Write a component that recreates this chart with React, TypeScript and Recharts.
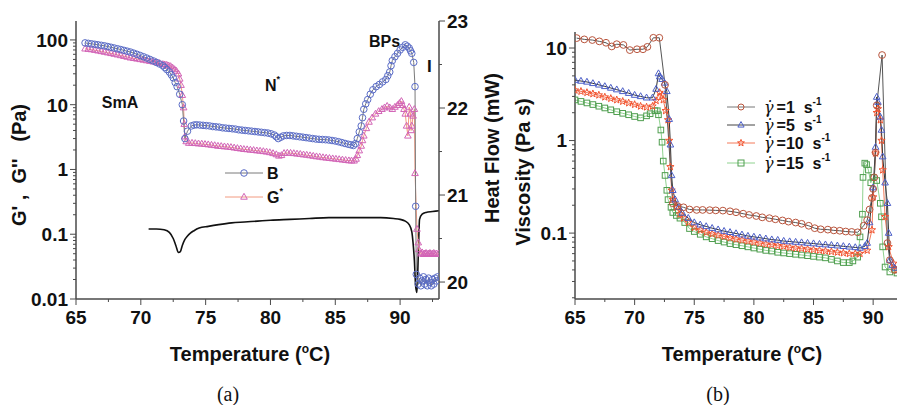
import React from 'react';
import { LineChart, Line, XAxis, YAxis } from 'recharts';

// ---------- Panel (a) data: [temperature °C, value] ----------
const gPrime: number[][] = [
  [65.7,90],[65.95,88.5],[66.2,87],[66.45,85.5],[66.7,84],[66.95,82.5],[67.2,81],[67.45,79],[67.7,77],[67.95,75],
  [68.2,73],[68.45,71],[68.7,69],[68.95,67],[69.2,65],[69.45,62.5],[69.7,60],[69.95,57.5],[70.2,55],[70.45,52.5],
  [70.7,50],[70.95,47.5],[71.2,45],[71.45,42.5],[71.7,40],[71.85,37.5],[72.0,35],[72.2,32],[72.35,29],[72.5,26],
  [72.65,22],[72.8,19],[73.0,14.5],[73.2,10],[73.3,5.6],[73.4,3.0],[73.6,3.9],[73.9,4.7],[74.1,4.85],[74.3,4.9],
  [74.55,4.85],[74.8,4.8],[75.05,4.75],[75.3,4.7],[75.55,4.6],[75.8,4.55],[76.05,4.5],[76.3,4.4],[76.55,4.35],[76.8,4.3],
  [77.05,4.25],[77.3,4.2],[77.55,4.1],[77.8,4.05],[78.05,4.0],[78.3,3.95],[78.55,3.9],[78.8,3.85],[79.05,3.8],[79.3,3.75],
  [79.55,3.7],[79.8,3.65],[80.05,3.55],[80.3,3.4],[80.45,3.2],[80.6,3.0],[80.8,3.15],[81.0,3.3],[81.25,3.35],[81.5,3.35],
  [81.75,3.3],[82.0,3.25],[82.25,3.2],[82.5,3.15],[82.75,3.1],[83.0,3.05],[83.25,3.0],[83.5,2.95],[83.75,2.92],[84.0,2.9],
  [84.25,2.88],[84.5,2.85],[84.75,2.8],[85.0,2.75],[85.25,2.68],[85.5,2.6],[85.75,2.52],[86.0,2.45],[86.2,2.4],[86.4,2.35],
  [86.55,2.5],[86.7,3.0],[86.85,3.8],[87.0,4.7],[87.1,6.3],[87.2,8.5],[87.35,10.3],[87.5,12],[87.7,14.5],[87.9,17],
  [88.15,19],[88.4,20.5],[88.65,22.5],[88.9,24.5],[89.05,28],[89.2,32],[89.3,40],[89.4,48],[89.6,55],[89.8,62],
  [90.0,70],[90.2,77],[90.4,84],[90.55,80],[90.7,75],[90.8,68],[90.9,62],[91.05,45],[91.15,19],[91.2,0.27],
  [91.25,0.024],[91.4,0.017],[91.5,0.021],[91.6,0.016],[91.7,0.019],[91.8,0.022],[91.9,0.017],[92.0,0.02],[92.1,0.016],[92.2,0.021],
  [92.3,0.018],[92.4,0.016],[92.5,0.02],[92.6,0.017],[92.7,0.021],[92.8,0.019],[92.9,0.022],
];

const gDouble: number[][] = [
  [65.7,73],[65.95,72],[66.2,71],[66.45,69.5],[66.7,68],[66.95,66.5],[67.2,65],[67.45,63.5],[67.7,62],[67.95,60.5],
  [68.2,59],[68.45,57.5],[68.7,56],[68.95,54.5],[69.2,53],[69.45,52],[69.7,51],[69.95,50],[70.2,49],[70.45,48],
  [70.7,47],[70.95,46],[71.2,45],[71.45,43.5],[71.7,42],[71.85,41.5],[72.0,41],[72.15,40],[72.3,39],[72.45,37],
  [72.6,35],[72.75,33],[72.9,30],[73.0,25],[73.1,20],[73.2,14],[73.3,9],[73.35,5],[73.4,3.2],[73.5,2.7],
  [73.7,2.55],[73.95,2.56],[74.2,2.53],[74.45,2.5],[74.7,2.48],[74.95,2.45],[75.2,2.42],[75.45,2.38],[75.7,2.35],[75.95,2.3],
  [76.2,2.28],[76.45,2.25],[76.7,2.23],[76.95,2.2],[77.2,2.16],[77.45,2.12],[77.7,2.09],[77.95,2.05],[78.2,2.03],[78.45,2.0],
  [78.7,1.98],[78.95,1.95],[79.2,1.93],[79.45,1.9],[79.7,1.87],[79.95,1.83],[80.2,1.77],[80.45,1.7],[80.65,1.62],[80.85,1.65],
  [81.05,1.78],[81.3,1.8],[81.55,1.79],[81.8,1.77],[82.05,1.74],[82.3,1.72],[82.55,1.69],[82.8,1.67],[83.05,1.64],[83.3,1.61],
  [83.55,1.58],[83.8,1.56],[84.05,1.53],[84.3,1.51],[84.55,1.49],[84.8,1.47],[85.05,1.45],[85.3,1.43],[85.55,1.41],[85.8,1.39],
  [86.05,1.37],[86.25,1.36],[86.45,1.36],[86.6,1.45],[86.7,1.65],[86.85,1.95],[87.0,2.3],[87.1,2.8],[87.2,3.3],[87.4,4.3],
  [87.6,5.4],[87.85,6.3],[88.1,7.2],[88.35,7.9],[88.6,8.5],[88.8,9.0],[89.0,9.5],[89.2,9.0],[89.4,8.5],[89.6,9.2],
  [89.8,9.8],[89.95,10.5],[90.1,11.3],[90.2,9.8],[90.3,8.5],[90.4,7.2],[90.5,4.7],[90.6,3.3],[90.7,9.2],[90.8,7.2],
  [90.85,4.0],[90.9,4.7],[91.0,6.7],[91.1,8.5],[91.15,0.87],[91.3,0.12],[91.4,0.074],[91.45,0.058],[91.6,0.05],[91.7,0.052],
  [91.8,0.049],[91.9,0.05],[92.0,0.051],[92.1,0.049],[92.2,0.05],[92.3,0.051],[92.4,0.049],[92.5,0.05],[92.6,0.051],[92.7,0.049],
  [92.8,0.05],[92.95,0.05],
];

const heatFlow: number[][] = [
  [70.6,20.61],[71.2,20.61],[71.8,20.6],[72.2,20.57],[72.5,20.5],[72.7,20.42],[72.9,20.34],[73.05,20.35],[73.2,20.42],[73.4,20.49],
  [73.6,20.53],[73.8,20.56],[74.1,20.59],[74.5,20.62],[75.2,20.64],[76.0,20.66],[77.0,20.68],[78.0,20.69],[79.0,20.7],[80.0,20.71],
  [81.5,20.72],[83.0,20.73],[84.5,20.74],[86.0,20.74],[87.5,20.74],[88.5,20.74],[89.5,20.73],[90.0,20.72],[90.4,20.7],[90.7,20.66],
  [90.9,20.58],[91.0,20.45],[91.1,20.25],[91.2,19.95],[91.3,19.88],[91.4,20.3],[91.5,20.72],[91.7,20.78],[92.0,20.8],[92.5,20.81],
  [93.0,20.82],
];

// ---------- Panel (b) data: [temperature °C, viscosity Pa s] ----------
const gamma1: number[][] = [
  [65.14,12.8],[65.78,12.4],[66.45,12.2],[67.04,11.8],[67.6,11.4],[68.08,10.4],[68.5,11.0],[69.06,10.8],[69.6,9.5],[70.2,9.7],
  [70.7,9.7],[71.07,10.3],[71.57,12.9],[72.07,12.9],[72.55,4.0],[73.2,0.21],[73.6,0.196],[74.1,0.19],[74.6,0.18],[75.2,0.178],
  [75.7,0.178],[76.3,0.177],[76.8,0.176],[77.4,0.175],[78.0,0.172],[78.5,0.168],[79.1,0.162],[79.6,0.157],[80.2,0.153],[80.7,0.148],
  [81.3,0.145],[81.8,0.141],[82.4,0.137],[82.9,0.133],[83.5,0.13],[84.0,0.126],[84.6,0.12],[85.1,0.113],[85.6,0.11],[86.2,0.109],
  [86.7,0.107],[87.2,0.106],[87.7,0.104],[88.2,0.103],[88.7,0.102],[89.2,0.12],[89.5,0.138],[89.7,0.18],[89.9,0.24],[90.0,0.3],
  [90.1,0.4],[90.2,0.74],[90.3,2.4],[90.75,8.4],[91.2,0.078],[91.4,0.051],[91.8,0.04],
];

const gamma5: number[][] = [
  [65.0,4.5],[65.5,4.4],[66.0,4.3],[66.5,4.15],[67.0,4.0],[67.5,3.85],[68.0,3.7],[68.5,3.55],[69.0,3.4],[69.5,3.25],
  [70.0,3.1],[70.5,3.0],[71.0,2.9],[71.5,2.9],[71.8,3.6],[72.0,5.3],[72.1,4.9],[72.3,4.6],[72.5,4.2],[72.7,3.4],
  [72.9,1.7],[73.0,0.9],[73.1,0.42],[73.2,0.29],[73.4,0.23],[73.7,0.19],[74.0,0.165],[74.5,0.145],[75.0,0.13],[75.5,0.123],
  [76.0,0.118],[76.5,0.113],[77.0,0.109],[77.5,0.105],[78.0,0.102],[78.5,0.099],[79.0,0.096],[79.5,0.093],[80.0,0.091],[80.5,0.089],
  [81.0,0.087],[81.5,0.085],[82.0,0.084],[82.5,0.082],[83.0,0.081],[83.5,0.08],[84.0,0.079],[84.5,0.078],[85.0,0.077],[85.5,0.076],
  [86.0,0.075],[86.5,0.074],[87.0,0.073],[87.5,0.072],[88.0,0.071],[88.5,0.07],[88.9,0.069],[89.3,0.072],[89.5,0.078],[89.7,0.13],
  [90.0,0.31],[90.2,0.85],[90.3,2.95],[90.4,2.6],[90.6,1.8],[90.7,1.3],[90.8,0.67],[91.0,0.35],[91.2,0.21],[91.3,0.1],
  [91.4,0.051],[91.6,0.045],[91.8,0.042],
];

const gamma10: number[][] = [
  [65.0,3.5],[65.5,3.4],[66.0,3.3],[66.5,3.2],[67.0,3.1],[67.5,2.95],[68.0,2.85],[68.5,2.75],[69.0,2.65],[69.5,2.55],
  [70.0,2.45],[70.5,2.35],[71.0,2.3],[71.5,2.35],[71.8,2.7],[72.1,3.3],[72.3,3.1],[72.4,2.75],[72.6,2.1],[72.8,1.67],
  [72.9,1.0],[73.0,0.52],[73.1,0.29],[73.2,0.23],[73.5,0.19],[73.8,0.16],[74.1,0.145],[74.5,0.13],[75.0,0.115],[75.5,0.108],
  [76.0,0.102],[76.5,0.098],[77.0,0.095],[77.5,0.092],[78.0,0.089],[78.5,0.086],[79.0,0.084],[79.5,0.082],[80.0,0.08],[80.5,0.078],
  [81.0,0.076],[81.5,0.075],[82.0,0.073],[82.5,0.072],[83.0,0.07],[83.5,0.069],[84.0,0.068],[84.5,0.067],[85.0,0.066],[85.5,0.065],
  [86.0,0.064],[86.5,0.063],[87.0,0.062],[87.5,0.061],[88.0,0.06],[88.5,0.06],[88.9,0.06],[89.5,0.065],[89.9,0.108],[90.0,0.245],
  [90.2,0.73],[90.3,2.0],[90.4,2.2],[90.6,1.67],[90.7,1.0],[90.8,0.48],[91.0,0.15],[91.3,0.071],[91.7,0.047],[92.0,0.04],
];

const gamma15: number[][] = [
  [65.0,2.75],[65.5,2.65],[66.0,2.55],[66.5,2.45],[67.0,2.35],[67.5,2.25],[68.0,2.15],[68.5,2.05],[69.0,1.97],[69.5,1.9],
  [70.0,1.82],[70.5,1.76],[71.0,1.85],[71.3,1.95],[71.7,2.1],[71.9,2.1],[72.0,1.9],[72.2,1.3],[72.3,0.96],[72.4,0.6],
  [72.55,0.42],[72.7,0.29],[72.8,0.23],[73.05,0.19],[73.2,0.167],[73.5,0.155],[73.8,0.145],[74.2,0.13],[74.6,0.112],[75.0,0.104],
  [75.5,0.097],[76.0,0.091],[76.5,0.087],[77.0,0.083],[77.5,0.08],[78.0,0.077],[78.5,0.075],[79.0,0.073],[79.5,0.071],[80.0,0.069],
  [80.5,0.067],[81.0,0.065],[81.5,0.064],[82.0,0.062],[82.5,0.061],[83.0,0.06],[83.5,0.059],[84.0,0.058],[84.5,0.057],[85.0,0.056],
  [85.5,0.055],[86.0,0.054],[86.5,0.052],[87.0,0.05],[87.5,0.048],[88.0,0.048],[88.3,0.05],[88.7,0.055],[88.9,0.091],[89.1,0.16],
  [89.15,0.4],[89.3,0.57],[89.45,0.55],[89.6,0.48],[89.8,0.35],[90.0,0.4],[90.3,0.37],[90.6,0.21],[90.7,0.15],[90.8,0.071],
  [91.0,0.043],[91.4,0.038],[92.0,0.037],
];

// ---------- ticks ----------
const aXTicks = [65, 67.5, 70, 72.5, 75, 77.5, 80, 82.5, 85, 87.5, 90, 92.5];
const aYDecades = [0.01, 0.1, 1, 10, 100];
const aRightTicks = [20, 20.5, 21, 21.5, 22, 22.5, 23];
const bXTicks = [65, 67.5, 70, 72.5, 75, 77.5, 80, 82.5, 85, 87.5, 90];
const bYDecades = [0.01, 0.1, 1, 10];

const A_DOMAIN_LOG: [number, number] = [0.01, 196];
const A_DOMAIN_HF: [number, number] = [19.805, 23];
const B_DOMAIN_LOG: [number, number] = [0.0194, 14.9];

const logTicks = (decades: number[], dom: [number, number]) => {
  const out: number[] = [];
  decades.forEach((d) => {
    for (let m = 1; m <= 9; m++) {
      const v = Number((d * m).toPrecision(6));
      if (v >= dom[0] - 1e-12 && v <= dom[1]) out.push(v);
    }
  });
  return out;
};
const aYTicks = logTicks(aYDecades, A_DOMAIN_LOG);
const bYTicks = logTicks(bYDecades, B_DOMAIN_LOG);

const toPts = (arr: number[][]) => arr.map(([t, v]) => ({ t, v }));

const FONT = '"Liberation Sans", Arial, sans-serif';
const AXIS = '#4a4a4a';
const TICK_FS = 19;

const isMajorLog = (v: number) => Math.abs(Math.log10(v) - Math.round(Math.log10(v))) < 1e-6;
const fmt = (v: number) => String(Number(v.toPrecision(6)));

const LeftLogTick = (p: any) => {
  const { x, y, payload } = p;
  const major = isMajorLog(payload.value);
  return (
    <g>
      <line x1={x} x2={x - (major ? 6 : 3)} y1={y} y2={y} stroke={AXIS} strokeWidth={1} />
      {major && (
        <text x={x - 8} y={y} dy="0.36em" textAnchor="end" fontFamily={FONT} fontWeight="bold" fontSize={TICK_FS} fill="#111">
          {fmt(payload.value)}
        </text>
      )}
    </g>
  );
};

const RightTick = (p: any) => {
  const { x, y, payload } = p;
  const major = Number.isInteger(payload.value);
  return (
    <g>
      <line x1={x} x2={x + (major ? 6 : 3)} y1={y} y2={y} stroke={AXIS} strokeWidth={1} />
      {major && (
        <text x={x + 8} y={y} dy="0.36em" textAnchor="start" fontFamily={FONT} fontWeight="bold" fontSize={TICK_FS} fill="#111">
          {fmt(payload.value)}
        </text>
      )}
    </g>
  );
};

const BottomTick = (p: any) => {
  const { x, y, payload } = p;
  const major = payload.value % 5 === 0;
  return (
    <g>
      <line x1={x} x2={x} y1={y} y2={y + (major ? 6 : 3)} stroke={AXIS} strokeWidth={1} />
      {major && (
        <text x={x} y={y + 18} dy="0.36em" textAnchor="middle" fontFamily={FONT} fontWeight="bold" fontSize={TICK_FS} fill="#111">
          {fmt(payload.value)}
        </text>
      )}
    </g>
  );
};

// ---------- markers ----------
type Shape = 'circle' | 'triangle' | 'square' | 'star';
const shapePath = (shape: Shape, cx: number, cy: number, s: number, color: string, key?: any) => {
  const common = { fill: 'none', stroke: color, strokeWidth: 1 } as any;
  if (shape === 'circle') return <circle key={key} cx={cx} cy={cy} r={s} {...common} />;
  if (shape === 'square') return <rect key={key} x={cx - s} y={cy - s} width={2 * s} height={2 * s} {...common} />;
  if (shape === 'triangle') {
    const h = s * 1.15;
    const pts = `${cx},${cy - h} ${cx - h * 0.9},${cy + h * 0.6} ${cx + h * 0.9},${cy + h * 0.6}`;
    return <polygon key={key} points={pts} {...common} />;
  }
  const pts: string[] = [];
  for (let i = 0; i < 10; i++) {
    const r = i % 2 === 0 ? s * 1.2 : s * 0.5;
    const a = -Math.PI / 2 + (i * Math.PI) / 5;
    pts.push(`${cx + r * Math.cos(a)},${cy + r * Math.sin(a)}`);
  }
  return <polygon key={key} points={pts.join(' ')} {...common} />;
};

const makeDot = (shape: Shape, color: string, s: number) => (p: any) => {
  const { cx, cy, index } = p;
  if (cx == null || cy == null || Number.isNaN(cx) || Number.isNaN(cy)) return <g key={`d${index}`} />;
  return shapePath(shape, cx, cy, s, color, `d${index}`);
};

// colors
const C_B = '#5a6cc6';
const C_BLINE = '#7a7a7a';
const C_G2 = '#d264b6';
const C_G2LINE = '#f29a80';
const C_G1 = '#b9553d';
const C_G5 = '#4c5fc8';
const C_G10 = '#f2532f';
const C_G15 = '#4f9e4f';

const boldText = { fontFamily: FONT, fontWeight: 'bold' as const, fill: '#111' };

export default function App() {
  return (
    <div style={{ position: 'absolute', left: 0, top: 0, width: 897, height: 405, overflow: 'hidden', background: '#fff' }}>
      {/* Panel (a) */}
      <div style={{ position: 'absolute', left: 0, top: 0 }}>
        <LineChart width={470} height={405} margin={{ top: 21, right: 0, bottom: 76, left: 16 }}>
          <XAxis
            type="number" dataKey="t" domain={[65, 93]} allowDataOverflow ticks={aXTicks} interval={0}
            tickSize={0} tickMargin={0} tickLine={false} tick={(p: any) => <BottomTick {...p} />}
            axisLine={{ stroke: AXIS, strokeWidth: 1.5 }} height={30}
          />
          <XAxis xAxisId="top" orientation="top" type="number" domain={[65, 93]} allowDataOverflow tick={false}
            tickLine={false} height={0} axisLine={{ stroke: '#9a9a9a', strokeWidth: 1 }} />
          <YAxis yAxisId="left" orientation="left" type="number" scale="log" domain={A_DOMAIN_LOG} allowDataOverflow
            ticks={aYTicks} interval={0} tickSize={0} tickMargin={0} tickLine={false}
            tick={(p: any) => <LeftLogTick {...p} />} axisLine={{ stroke: AXIS, strokeWidth: 1.5 }} width={60} />
          <YAxis yAxisId="right" orientation="right" type="number" domain={A_DOMAIN_HF} allowDataOverflow
            ticks={aRightTicks} interval={0} tickSize={0} tickMargin={0} tickLine={false}
            tick={(p: any) => <RightTick {...p} />} axisLine={{ stroke: AXIS, strokeWidth: 1.5 }} width={31} />
          <Line yAxisId="right" data={toPts(heatFlow)} dataKey="v" type="monotone" stroke="#111" strokeWidth={1.6}
            dot={false} activeDot={false} isAnimationActive={false} />
          <Line yAxisId="left" data={toPts(gDouble)} dataKey="v" type="linear" stroke={C_G2LINE} strokeWidth={1}
            dot={makeDot('triangle', C_G2, 3.2)} activeDot={false} isAnimationActive={false} />
          <Line yAxisId="left" data={toPts(gPrime)} dataKey="v" type="linear" stroke={C_BLINE} strokeWidth={1}
            dot={makeDot('circle', C_B, 3.3)} activeDot={false} isAnimationActive={false} />
        </LineChart>
      </div>

      {/* Panel (b) */}
      <div style={{ position: 'absolute', left: 460, top: 0 }}>
        <LineChart width={437} height={405} margin={{ top: 32, right: 0, bottom: 76, left: 55 }}>
          <XAxis
            type="number" dataKey="t" domain={[65, 92]} allowDataOverflow ticks={bXTicks} interval={0}
            tickSize={0} tickMargin={0} tickLine={false} tick={(p: any) => <BottomTick {...p} />}
            axisLine={{ stroke: AXIS, strokeWidth: 1.5 }} height={30}
          />
          <XAxis xAxisId="top" orientation="top" type="number" domain={[65, 92]} allowDataOverflow tick={false}
            tickLine={false} height={0} axisLine={{ stroke: '#a0a0a0', strokeWidth: 1 }} />
          <YAxis yAxisId="left" orientation="left" type="number" scale="log" domain={B_DOMAIN_LOG} allowDataOverflow
            ticks={bYTicks} interval={0} tickSize={0} tickMargin={0} tickLine={false}
            tick={(p: any) => <LeftLogTick {...p} />} axisLine={{ stroke: AXIS, strokeWidth: 1.5 }} width={60} />
          <Line yAxisId="left" data={toPts(gamma15)} dataKey="v" type="linear" stroke="#8fd28f" strokeWidth={1}
            dot={makeDot('square', C_G15, 2.8)} activeDot={false} isAnimationActive={false} />
          <Line yAxisId="left" data={toPts(gamma10)} dataKey="v" type="linear" stroke="#f47a5a" strokeWidth={1}
            dot={makeDot('star', C_G10, 3.2)} activeDot={false} isAnimationActive={false} />
          <Line yAxisId="left" data={toPts(gamma5)} dataKey="v" type="linear" stroke="#333" strokeWidth={1}
            dot={makeDot('triangle', C_G5, 3.2)} activeDot={false} isAnimationActive={false} />
          <Line yAxisId="left" data={toPts(gamma1)} dataKey="v" type="linear" stroke="#555" strokeWidth={1}
            dot={makeDot('circle', C_G1, 3.4)} activeDot={false} isAnimationActive={false} />
        </LineChart>
      </div>

      {/* Titles, legends, annotations */}
      <svg width={897} height={405} style={{ position: 'absolute', left: 0, top: 0, pointerEvents: 'none' }}>
        <text transform="translate(26,165) rotate(-90)" textAnchor="middle" fontSize={20} style={{ whiteSpace: 'pre' }} {...boldText}>
          {"G' ,  G''   (Pa)"}
        </text>
        <text transform="translate(499,148) rotate(-90)" textAnchor="middle" fontSize={20} {...boldText}>Heat Flow (mW)</text>
        <text transform="translate(530,172) rotate(-90)" textAnchor="middle" fontSize={20} {...boldText}>Viscosity (Pa s)</text>

        <text x={250} y={361} textAnchor="middle" fontSize={20} {...boldText}>
          Temperature (<tspan fontSize={12} dy={-8}>o</tspan><tspan dy={8}>C)</tspan>
        </text>
        <text x={742} y={361} textAnchor="middle" fontSize={20} {...boldText}>
          Temperature (<tspan fontSize={12} dy={-8}>o</tspan><tspan dy={8}>C)</tspan>
        </text>

        <text x={228} y={401} textAnchor="middle" fontSize={20} fontFamily='"Liberation Serif", "Times New Roman", serif' fill="#111">(a)</text>
        <text x={718} y={401} textAnchor="middle" fontSize={20} fontFamily='"Liberation Serif", "Times New Roman", serif' fill="#111">(b)</text>

        {/* annotations panel (a) */}
        <text x={120} y={108} textAnchor="middle" fontSize={16} {...boldText}>SmA</text>
        <text x={265} y={91} fontSize={16} {...boldText}>N<tspan fontSize={9} dy={-9}>*</tspan></text>
        <text x={369} y={47} fontSize={16} {...boldText}>BPs</text>
        <text x={427} y={72} fontSize={17} {...boldText}>I</text>

        {/* legend panel (a) */}
        <line x1={225} x2={263} y1={173} y2={173} stroke={C_BLINE} strokeWidth={1} />
        {shapePath('circle', 244, 173, 3.3, C_B)}
        <text x={267} y={179} fontSize={16} {...boldText}>B</text>
        <line x1={225} x2={263} y1={197} y2={197} stroke={C_G2LINE} strokeWidth={1} />
        {shapePath('triangle', 244, 197, 3.2, C_G2)}
        <text x={267} y={203} fontSize={16} {...boldText}>G<tspan fontSize={9} dy={-9}>*</tspan></text>

        {/* legend panel (b) */}
        {[
          { y: 107, line: '#777', shape: 'circle' as Shape, color: C_G1, label: '1' },
          { y: 125, line: '#444', shape: 'triangle' as Shape, color: C_G5, label: '5' },
          { y: 143, line: '#f47a5a', shape: 'star' as Shape, color: C_G10, label: '10' },
          { y: 163, line: '#8fd28f', shape: 'square' as Shape, color: C_G15, label: '15' },
        ].map((r) => (
          <g key={r.label}>
            <line x1={727} x2={755} y1={r.y} y2={r.y} stroke={r.line} strokeWidth={1} />
            {shapePath(r.shape, 741, r.y, 3, r.color)}
            <text x={764} y={r.y + 6} fontSize={16} style={{ whiteSpace: 'pre' }} {...boldText}>
              <tspan fontFamily='"DejaVu Serif", serif' fontStyle="italic" fontWeight="normal">γ̇</tspan>
              <tspan dx={3}>{`=${r.label}  s`}</tspan>
              <tspan fontSize={10} dy={-8}>-1</tspan>
            </text>
          </g>
        ))}
      </svg>
    </div>
  );
}
